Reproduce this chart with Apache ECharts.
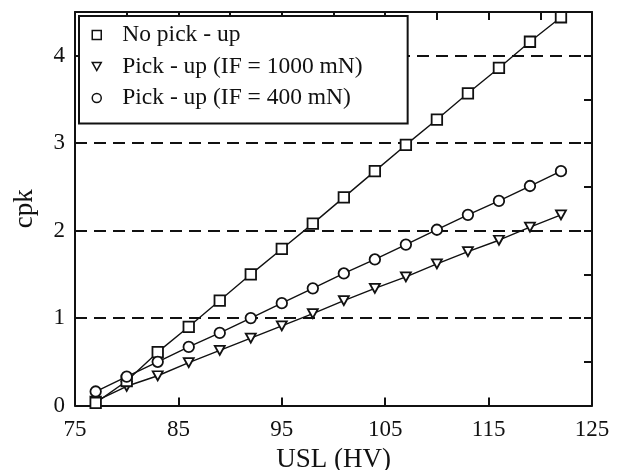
<!DOCTYPE html>
<html>
<head>
<meta charset="utf-8">
<script src="https://cdn.jsdelivr.net/npm/echarts@6/dist/echarts.min.js"></script>
<style>
html,body{margin:0;padding:0;background:#fff;}
#chart{width:621px;height:470px;}
</style>
</head>
<body>
<div id="chart"></div>
<script>
var usl = [77, 80, 83, 86, 89, 92, 95, 98, 101, 104, 107, 110, 113, 116, 119, 122];
var noPickup = [0.03, 0.28, 0.61, 0.90, 1.20, 1.50, 1.79, 2.08, 2.38, 2.68, 2.98, 3.27, 3.57, 3.86, 4.16, 4.44];
var pickup1000 = [0.05, 0.22, 0.34, 0.49, 0.63, 0.77, 0.91, 1.05, 1.20, 1.34, 1.47, 1.62, 1.76, 1.89, 2.04, 2.18];
var pickup400 = [0.16, 0.33, 0.50, 0.67, 0.83, 1.00, 1.17, 1.34, 1.51, 1.67, 1.84, 2.01, 2.18, 2.34, 2.51, 2.68];
var seriesNames = ['No pick - up', 'Pick - up (IF = 1000 mN)', 'Pick - up (IF = 400 mN)'];
var xTickLabels = ['75', '85', '95', '105', '115', '125'];
var yTickLabels = ['0', '1', '2', '3', '4'];

function pairs(ys) { return usl.map(function (x, i) { return [x, ys[i]]; }); }

var INK = '#111';
var FONT = '"Liberation Serif", "Times New Roman", serif';
var chart = echarts.init(document.getElementById('chart'), null, {renderer: 'canvas'});

var markerStyle = {color: '#fff', borderColor: INK, borderWidth: 1.8};
var lineStyle = {color: INK, width: 1.4};
var frameLine = {show: true, onZero: false, lineStyle: {color: INK, width: 2}};
var inTick = {show: true, inside: true, length: 8, lineStyle: {color: INK, width: 2}};

chart.setOption({
  animation: false,
  backgroundColor: '#fff',
  grid: {left: 75, right: 29, top: 12, bottom: 64.5, containLabel: false, outerBoundsMode: 'none'},
  legend: {
    orient: 'vertical',
    left: 79, top: 16,
    padding: [7, 45, 13.5, 12.5],
    itemGap: 7.5,
    itemWidth: 9, itemHeight: 9,
    backgroundColor: '#fff',
    borderColor: INK, borderWidth: 2, borderRadius: 0,
    itemStyle: {color: '#fff', borderColor: INK, borderWidth: 1.5},
    textStyle: {fontFamily: FONT, fontSize: 23.5, color: INK, lineHeight: 22, padding: [0, 0, 0, 16]},
    selectedMode: false,
    data: [
      {name: seriesNames[0], icon: 'rect'},
      {name: seriesNames[1], icon: 'path://M0,0L10,0L5,9Z'},
      {name: seriesNames[2], icon: 'circle'}
    ],
    z: 10
  },
  xAxis: [{
    type: 'value', min: 75, max: 125, interval: 10, position: 'bottom',
    name: 'USL (HV)', nameLocation: 'middle', nameGap: 32,
    nameTextStyle: {fontFamily: FONT, fontSize: 27, color: INK},
    axisLine: frameLine, axisTick: inTick,
    axisLabel: {fontFamily: FONT, fontSize: 23, color: INK, margin: 13,
      formatter: function (v) { var s = String(v); return xTickLabels.indexOf(s) >= 0 ? s : ''; }},
    splitLine: {show: false}
  }, {
    type: 'value', min: 75, max: 125, interval: 5, position: 'top',
    axisLine: frameLine, axisTick: inTick,
    axisLabel: {show: false}, splitLine: {show: false}
  }],
  yAxis: [{
    type: 'value', min: 0, max: 4.5, interval: 1, position: 'left',
    name: 'cpk', nameLocation: 'middle', nameGap: 37,
    nameTextStyle: {fontFamily: FONT, fontSize: 27, color: INK},
    axisLine: frameLine, axisTick: inTick,
    axisLabel: {fontFamily: FONT, fontSize: 23, color: INK, margin: 10,
      formatter: function (v) { var s = String(v); return yTickLabels.indexOf(s) >= 0 ? s : ''; }},
    splitLine: {show: true, lineStyle: {color: INK, width: 2, type: [12, 7]}}
  }, {
    type: 'value', min: 0, max: 4.5, interval: 0.5, position: 'right',
    axisLine: frameLine, axisTick: inTick,
    axisLabel: {show: false}, splitLine: {show: false}
  }],
  series: [{
    name: seriesNames[1], type: 'line', data: pairs(pickup1000),
    symbol: 'triangle', symbolRotate: 180, symbolSize: [10, 9],
    itemStyle: markerStyle, lineStyle: lineStyle, z: 2, emphasis: {disabled: true}
  }, {
    name: seriesNames[0], type: 'line', data: pairs(noPickup),
    symbol: 'rect', symbolSize: 10.5,
    itemStyle: markerStyle, lineStyle: lineStyle, z: 3, emphasis: {disabled: true}
  }, {
    name: seriesNames[2], type: 'line', data: pairs(pickup400),
    symbol: 'circle', symbolSize: 10.5,
    itemStyle: markerStyle, lineStyle: lineStyle, z: 4, emphasis: {disabled: true}
  }]
});
</script>
</body>
</html>
